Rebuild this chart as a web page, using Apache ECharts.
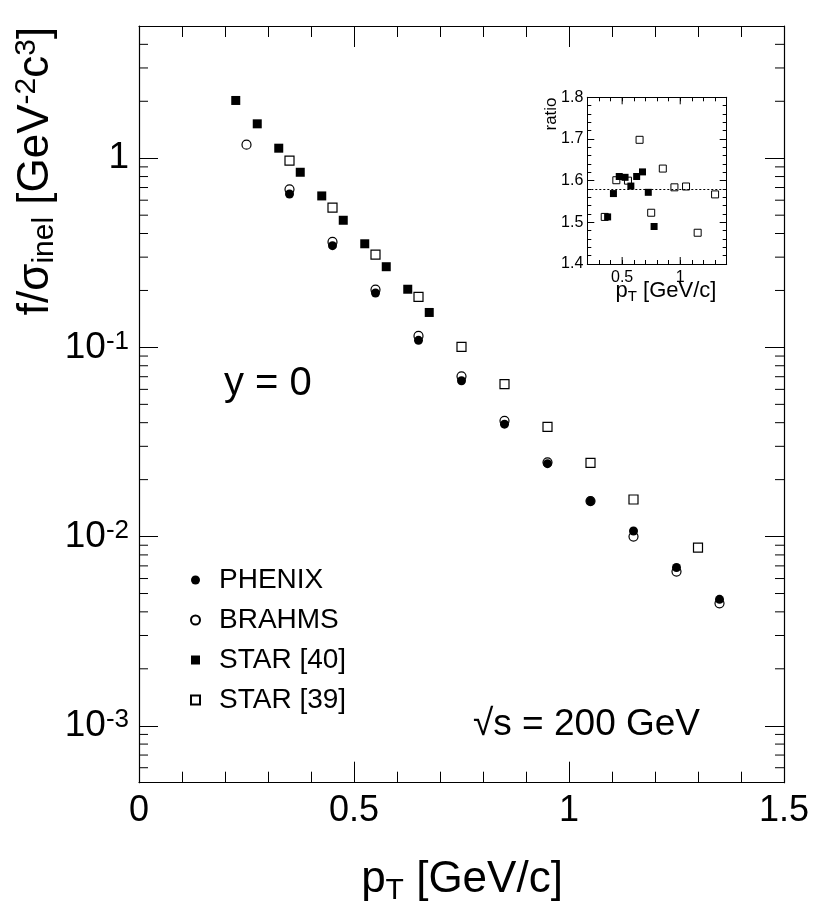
<!DOCTYPE html>
<html><head><meta charset="utf-8">
<script src="https://cdn.jsdelivr.net/npm/echarts@6/dist/echarts.min.js"></script>
<style>html,body{margin:0;padding:0;background:#fff}#c{width:817px;height:921px}</style>
</head><body><div id="c"></div>
<script>
const FONT = "'Liberation Sans', Arial, Helvetica, sans-serif";

// ---- main plot data (pT [GeV/c], f/sigma_inel) ----
const phenixPt  = [0.35, 0.45, 0.55, 0.65, 0.75, 0.85, 0.95, 1.05, 1.15, 1.25, 1.35];
const phenixVal = [0.647, 0.345, 0.194, 0.109, 0.0666, 0.0393, 0.0243, 0.0154, 0.0107, 0.00686, 0.00466];
const brahmsPt  = [0.25, 0.35, 0.45, 0.55, 0.65, 0.75, 0.85, 0.95, 1.05, 1.15, 1.25, 1.35];
const brahmsVal = [1.18, 0.685, 0.361, 0.202, 0.115, 0.0703, 0.0409, 0.0247, 0.0154, 0.0100, 0.00653, 0.00444];
const star40Pt  = [0.225, 0.275, 0.325, 0.375, 0.425, 0.475, 0.525, 0.575, 0.625, 0.675];
const star40Val = [2.02, 1.52, 1.13, 0.843, 0.632, 0.470, 0.353, 0.267, 0.203, 0.153];
const star39Pt  = [0.35, 0.45, 0.55, 0.65, 0.75, 0.85, 0.95, 1.05, 1.15, 1.30];
const star39Val = [0.971, 0.548, 0.309, 0.185, 0.1007, 0.064, 0.038, 0.0245, 0.0157, 0.00875];

// ---- inset ratio data ----
const ratio40Pt  = [0.375, 0.425, 0.475, 0.525, 0.575, 0.625, 0.675, 0.725, 0.775];
const ratio40Val = [1.513, 1.569, 1.610, 1.608, 1.587, 1.610, 1.621, 1.572, 1.490];
const ratio39Pt  = [0.35, 0.45, 0.55, 0.65, 0.75, 0.85, 0.95, 1.05, 1.15, 1.30];
const ratio39Val = [1.513, 1.601, 1.600, 1.698, 1.523, 1.629, 1.584, 1.586, 1.475, 1.567];
const ratioMean = 1.578;

// ---- axes / ticks ----
const seriesNames = ['PHENIX', 'BRAHMS', 'STAR [40]', 'STAR [39]'];
const xMainLabels = ['0', '0.5', '1', '1.5'];
const yMainMin = 5e-4, yMainMax = 5;
const xMainMin = 0, xMainMax = 1.5;
const yMinorTicks = [6e-4, 7e-4, 8e-4, 9e-4,
  2e-3, 3e-3, 4e-3, 5e-3, 6e-3, 7e-3, 8e-3, 9e-3,
  2e-2, 3e-2, 4e-2, 5e-2, 6e-2, 7e-2, 8e-2, 9e-2,
  0.2, 0.3, 0.4, 0.5, 0.6, 0.7, 0.8, 0.9,
  2, 3, 4];
const insetXMin = 0.2, insetXMax = 1.4, insetYMin = 1.4, insetYMax = 1.8;
const insetXLabels = ['0.5', '1'];
const insetXMajor = [0.5, 1.0];

const zip = (a, b) => a.map((v, i) => [v, b[i]]);
const LINE = '#000';

const chart = echarts.init(document.getElementById('c'), null, {renderer: 'canvas'});

function tickLineStyle() { return {color: LINE, width: 1}; }

const mainX = (pos, showLabel) => ({
  type: 'value', gridIndex: 0, position: pos, min: xMainMin, max: xMainMax, interval: 0.5,
  axisLine: {show: true, onZero: false, lineStyle: {color: LINE, width: 1.2}},
  axisTick: {show: true, inside: true, length: 21, lineStyle: tickLineStyle()},
  minorTick: {show: true, splitNumber: 5, length: 11, lineStyle: tickLineStyle()},
  splitLine: {show: false}, minorSplitLine: {show: false},
  axisLabel: {show: showLabel, margin: 10, fontSize: 36, fontFamily: FONT, color: '#000',
    formatter: v => { const i = Math.round(v / 0.5); return xMainLabels[i] !== undefined ? xMainLabels[i] : ''; }}
});
const mainY = (pos, showLabel) => ({
  type: 'log', logBase: 10, gridIndex: 0, position: pos, min: yMainMin, max: yMainMax,
  axisLine: {show: true, onZero: false, lineStyle: {color: LINE, width: 1.2}},
  axisTick: {show: true, inside: true, length: 19, lineStyle: tickLineStyle()},
  splitLine: {show: false},
  axisLabel: {show: showLabel, margin: 10, showMinLabel: false, showMaxLabel: false,
    fontFamily: FONT, color: '#000',
    formatter: v => {
      const e = Math.round(Math.log10(v));
      if (e === 0) return '{n|1}';
      return '{n|10}{s|' + (e < 0 ? '-' : '') + Math.abs(e) + '}';
    },
    rich: {
      n: {fontSize: 37, fontFamily: FONT, color: '#000'},
      s: {fontSize: 26, fontFamily: FONT, color: '#000', padding: [0, 0, 11, 0]}
    }}
});
const insetX = (pos, showLabel) => ({
  type: 'value', gridIndex: 1, position: pos, min: insetXMin, max: insetXMax, interval: 0.1,
  axisLine: {show: true, onZero: false, lineStyle: {color: LINE, width: 1}},
  axisTick: {show: true, inside: true, length: 4, lineStyle: tickLineStyle()},
  splitLine: {show: false},
  axisLabel: {show: showLabel, margin: 6, fontSize: 16, fontFamily: FONT, color: '#000',
    showMinLabel: false, showMaxLabel: false,
    formatter: v => { const i = insetXMajor.findIndex(m => Math.abs(m - v) < 1e-6); return i >= 0 ? insetXLabels[i] : ''; }}
});
const insetY = (pos, showLabel) => ({
  type: 'value', gridIndex: 1, position: pos, min: insetYMin, max: insetYMax, interval: 0.1,
  axisLine: {show: true, onZero: false, lineStyle: {color: LINE, width: 1}},
  axisTick: {show: true, inside: true, length: 7, lineStyle: tickLineStyle()},
  minorTick: {show: true, splitNumber: 5, length: 4, lineStyle: tickLineStyle()},
  splitLine: {show: false}, minorSplitLine: {show: false},
  axisLabel: {show: showLabel, margin: 4, fontSize: 16, fontFamily: FONT, color: '#000',
    formatter: v => v.toFixed(1)}
});

const option = {
  animation: false,
  backgroundColor: '#fff',
  grid: [
    {left: 139, right: 33, top: 26, bottom: 138.3, containLabel: false},
    {left: 587.3, right: 90.3, top: 97.3, bottom: 657, containLabel: false}
  ],
  xAxis: [mainX('bottom', true), mainX('top', false), insetX('bottom', true), insetX('top', false)],
  yAxis: [mainY('left', true), mainY('right', false), insetY('left', true), insetY('right', false)],
  legend: {
    data: seriesNames, orient: 'vertical', left: 185, top: 561,
    itemWidth: 9, itemHeight: 9, itemGap: 12, selectedMode: false,
    textStyle: {fontSize: 28, fontFamily: FONT, color: '#000', lineHeight: 28, padding: [0, 0, 0, 14]}
  },
  series: [
    {name: 'BRAHMS', type: 'scatter', xAxisIndex: 0, yAxisIndex: 0, z: 2,
      symbol: 'circle', symbolSize: 9, data: zip(brahmsPt, brahmsVal),
      itemStyle: {color: '#fff', borderColor: '#000', borderWidth: 1.2, opacity: 1}},
    {name: 'PHENIX', type: 'scatter', xAxisIndex: 0, yAxisIndex: 0, z: 3,
      symbol: 'circle', symbolSize: 9, data: zip(phenixPt, phenixVal),
      itemStyle: {color: '#000', opacity: 1}},
    {name: 'STAR [40]', type: 'scatter', xAxisIndex: 0, yAxisIndex: 0, z: 3,
      symbol: 'rect', symbolSize: 9, data: zip(star40Pt, star40Val),
      itemStyle: {color: '#000', opacity: 1}},
    {name: 'STAR [39]', type: 'scatter', xAxisIndex: 0, yAxisIndex: 0, z: 3,
      symbol: 'rect', symbolSize: 9, data: zip(star39Pt, star39Val),
      itemStyle: {color: '#fff', borderColor: '#000', borderWidth: 1.2, opacity: 1}},
    {name: 'yMinorTicks', type: 'custom', xAxisIndex: 0, yAxisIndex: 0, silent: true, z: 5,
      data: yMinorTicks.map(v => [xMainMin, v]),
      renderItem: (params, api) => {
        const v = api.value(1);
        const pL = api.coord([xMainMin, v]);
        const pR = api.coord([xMainMax, v]);
        const st = {stroke: LINE, lineWidth: 1};
        return {type: 'group', children: [
          {type: 'line', shape: {x1: pL[0], y1: pL[1], x2: pL[0] + 9, y2: pL[1]}, style: st},
          {type: 'line', shape: {x1: pR[0] - 9, y1: pR[1], x2: pR[0], y2: pR[1]}, style: st}
        ]};
      }},
    {name: 'ratio STAR [39]', type: 'scatter', xAxisIndex: 2, yAxisIndex: 2, z: 3,
      symbol: 'rect', symbolSize: 7, data: zip(ratio39Pt, ratio39Val),
      itemStyle: {color: '#fff', borderColor: '#000', borderWidth: 1, opacity: 1}},
    {name: 'ratio STAR [40]', type: 'scatter', xAxisIndex: 2, yAxisIndex: 2, z: 4,
      symbol: 'rect', symbolSize: 7, data: zip(ratio40Pt, ratio40Val),
      itemStyle: {color: '#000', opacity: 1},
      markLine: {silent: true, symbol: 'none', label: {show: false},
        lineStyle: {color: '#000', type: [2, 2], width: 1, opacity: 1},
        data: [{yAxis: ratioMean}]}},
    {name: 'insetXMajorTicks', type: 'custom', xAxisIndex: 2, yAxisIndex: 2, silent: true, z: 5,
      data: insetXMajor.map(v => [v, insetYMin]),
      renderItem: (params, api) => {
        const v = api.value(0);
        const pB = api.coord([v, insetYMin]);
        const pT = api.coord([v, insetYMax]);
        const st = {stroke: LINE, lineWidth: 1};
        return {type: 'group', children: [
          {type: 'line', shape: {x1: pB[0], y1: pB[1], x2: pB[0], y2: pB[1] - 7}, style: st},
          {type: 'line', shape: {x1: pT[0], y1: pT[1], x2: pT[0], y2: pT[1] + 7}, style: st}
        ]};
      }}
  ],
  graphic: [
    {type: 'text', x: 36, y: 171, rotation: Math.PI / 2, silent: true,
      style: {text: 'f/σ{sub|inel} [GeV{sup|-2}c{sup|3}]', align: 'center', verticalAlign: 'middle',
        fontSize: 44, fontFamily: FONT, fill: '#000',
        rich: {sub: {fontSize: 30, fontFamily: FONT, padding: [18, 0, 0, 0]},
               sup: {fontSize: 30, fontFamily: FONT, padding: [0, 0, 18, 0]}}}},
    {type: 'text', x: 462, y: 880, silent: true,
      style: {text: 'p{sub|T} [GeV/c]', align: 'center', verticalAlign: 'middle',
        fontSize: 44, fontFamily: FONT, fill: '#000',
        rich: {sub: {fontSize: 30, fontFamily: FONT, padding: [22, 0, 0, 0]}}}},
    {type: 'text', x: 224, y: 384, silent: true,
      style: {text: 'y = 0', align: 'left', verticalAlign: 'middle', fontSize: 40, fontFamily: FONT, fill: '#000'}},
    {type: 'text', x: 473, y: 725, silent: true,
      style: {text: '√s = 200 GeV', align: 'left', verticalAlign: 'middle', fontSize: 37, fontFamily: FONT, fill: '#000'}},
    {type: 'text', x: 551, y: 114, rotation: Math.PI / 2, silent: true,
      style: {text: 'ratio', align: 'center', verticalAlign: 'middle', fontSize: 17, fontFamily: FONT, fill: '#000'}},
    {type: 'text', x: 666, y: 291, silent: true,
      style: {text: 'p{sub|T} [GeV/c]', align: 'center', verticalAlign: 'middle',
        fontSize: 22, fontFamily: FONT, fill: '#000',
        rich: {sub: {fontSize: 15, fontFamily: FONT, padding: [11, 0, 0, 0]}}}}
  ]
};
chart.setOption(option);
</script>
</body></html>
